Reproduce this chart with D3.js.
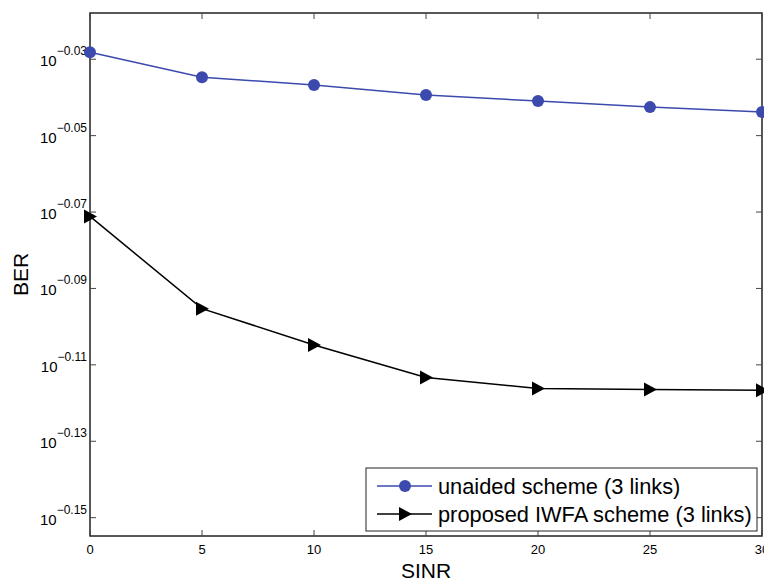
<!DOCTYPE html>
<html>
<head>
<meta charset="utf-8">
<script src="https://cdn.jsdelivr.net/npm/d3@7"></script>
<style>
    body { margin: 0; background: #fff; }
    svg { display: block; font-family: "Liberation Sans", Arial, sans-serif; }
</style>
</head>
<body>
<script>
var sinr = [0, 5, 10, 15, 20, 25, 30];
var unaided = [0.9372, 0.9232, 0.9189, 0.9134, 0.9100, 0.9067, 0.9040];
var proposed = [0.8489, 0.8030, 0.7856, 0.7704, 0.7653, 0.7648, 0.7644];
var xTicks = [0, 5, 10, 15, 20, 25, 30];
var yExps = ["-0.03", "-0.05", "-0.07", "-0.09", "-0.11", "-0.13", "-0.15"];
var seriesNames = ["unaided scheme (3 links)", "proposed IWFA scheme (3 links)"];

(function () {
    var width = 764, height = 583;
    var margin = {left: 90, top: 13, right: 2, bottom: 47};
    var w = width - margin.left - margin.right,
        h = height - margin.top - margin.bottom;

    var svg = d3.select("body").append("svg")
        .attr("width", width)
        .attr("height", height);

    var x = d3.scaleLinear().domain([0, 30]).range([0, w]);
    var y = d3.scaleLog()
        .domain([Math.pow(10, -0.1548), Math.pow(10, -0.0179)])
        .range([h, 0]);

    var g = svg.append("g")
        .attr("transform", "translate(" + margin.left + "," + margin.top + ")");

    // frame
    g.append("rect")
        .attr("width", w).attr("height", h)
        .attr("fill", "none").attr("stroke", "#222").attr("stroke-width", 1.5);

    var tl = 6;
    // x ticks (bottom and top, pointing in)
    xTicks.forEach(function (t) {
        g.append("line").attr("x1", x(t)).attr("x2", x(t))
            .attr("y1", h).attr("y2", h - tl).attr("stroke", "#444");
        g.append("line").attr("x1", x(t)).attr("x2", x(t))
            .attr("y1", 0).attr("y2", tl).attr("stroke", "#444");
        g.append("text").attr("x", x(t)).attr("y", h + 18)
            .attr("text-anchor", "middle").attr("font-size", 13)
            .text(t);
    });

    // y ticks
    yExps.forEach(function (e) {
        var v = Math.pow(10, +e);
        var yy = y(v);
        g.append("line").attr("x1", 0).attr("x2", tl)
            .attr("y1", yy).attr("y2", yy).attr("stroke", "#444");
        g.append("line").attr("x1", w).attr("x2", w - tl)
            .attr("y1", yy).attr("y2", yy).attr("stroke", "#444");
        var t = g.append("text").attr("x", -3).attr("y", yy + 7)
            .attr("text-anchor", "end").attr("font-size", 15);
        t.append("tspan").text("10");
        t.append("tspan").attr("dy", -11).attr("font-size", 12)
            .text("\u2212" + e.slice(1));
    });

    var line = d3.line()
        .x(function (d, i) { return x(sinr[i]); })
        .y(function (d) { return y(d); });

    var blue = "#3c4aad";
    g.append("path").datum(unaided)
        .attr("d", line).attr("fill", "none")
        .attr("stroke", blue).attr("stroke-width", 1.5);
    g.append("path").datum(proposed)
        .attr("d", line).attr("fill", "none")
        .attr("stroke", "#000").attr("stroke-width", 1.5);

    g.selectAll("circle.u").data(unaided).enter().append("circle")
        .attr("class", "u")
        .attr("cx", function (d, i) { return x(sinr[i]); })
        .attr("cy", function (d) { return y(d); })
        .attr("r", 6).attr("fill", blue);

    var tri = "M-6,-7L7,0L-6,7Z";
    g.selectAll("path.p").data(proposed).enter().append("path")
        .attr("class", "p")
        .attr("d", tri)
        .attr("transform", function (d, i) {
            return "translate(" + x(sinr[i]) + "," + y(d) + ")";
        })
        .attr("fill", "#000");

    // legend
    var lg = svg.append("g").attr("transform", "translate(366,468)");
    lg.append("rect").attr("width", 391).attr("height", 63)
        .attr("fill", "#fff").attr("stroke", "#222").attr("stroke-width", 1);
    var rows = [
        {y: 18, color: blue, mark: "c"},
        {y: 46, color: "#000", mark: "t"}
    ];
    rows.forEach(function (r, i) {
        lg.append("line").attr("x1", 11).attr("x2", 66)
            .attr("y1", r.y).attr("y2", r.y)
            .attr("stroke", r.color).attr("stroke-width", 1.5);
        if (r.mark === "c") {
            lg.append("circle").attr("cx", 39).attr("cy", r.y).attr("r", 6).attr("fill", r.color);
        } else {
            lg.append("path").attr("d", tri)
                .attr("transform", "translate(39," + r.y + ")").attr("fill", r.color);
        }
        lg.append("text").attr("x", 72).attr("y", r.y + 8)
            .attr("font-size", 21.8).text(seriesNames[i]);
    });

    // axis labels
    svg.append("text").attr("x", margin.left + w / 2).attr("y", 578)
        .attr("text-anchor", "middle").attr("font-size", 21).text("SINR");
    svg.append("text")
        .attr("transform", "translate(28," + (margin.top + h / 2) + ") rotate(-90)")
        .attr("text-anchor", "middle").attr("font-size", 21).text("BER");
}());
</script>
</body>
</html>
